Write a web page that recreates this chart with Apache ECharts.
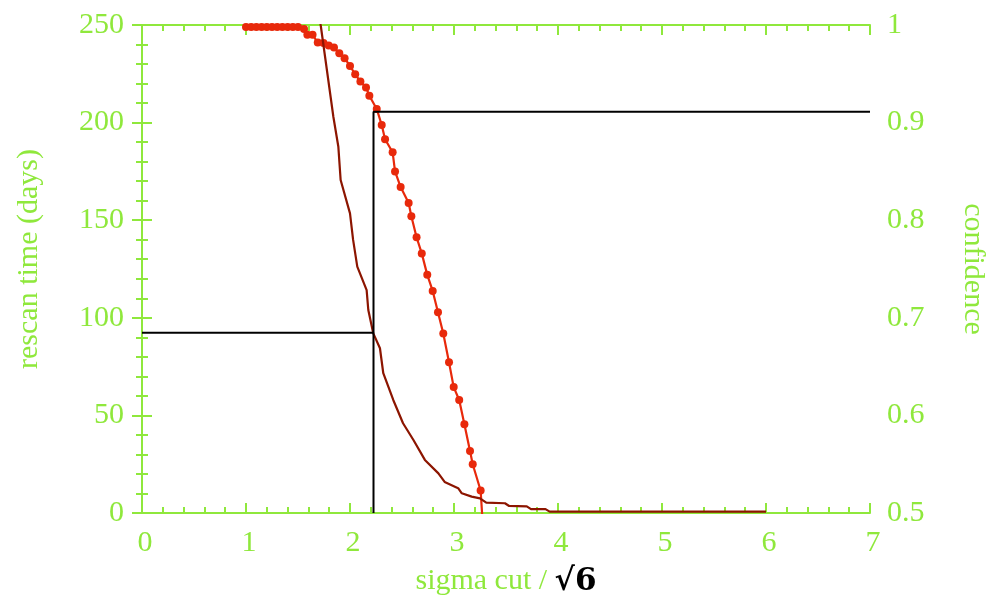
<!DOCTYPE html>
<html><head><meta charset="utf-8">
<script src="https://cdn.jsdelivr.net/npm/echarts@6/dist/echarts.min.js"></script>
<style>html,body{margin:0;padding:0;background:#fff}#c{width:986px;height:600px}</style>
</head><body><div id="c"></div><script>
// confidence curve (right axis), red with dots
const confX = [1.0,1.05,1.1,1.15,1.2,1.25,1.3,1.35,1.4,1.45,1.5,1.558,1.59,1.64,1.69,1.745,1.795,1.846,1.897,1.948,2.0,2.05,2.10,2.154,2.186,2.257,2.305,2.337,2.41,2.433,2.487,2.564,2.59,2.64,2.69,2.743,2.795,2.846,2.897,2.952,2.997,3.05,3.10,3.154,3.18,3.256,3.30];
const confY = [0.998,0.998,0.998,0.998,0.998,0.998,0.998,0.998,0.998,0.998,0.998,0.996,0.990,0.990,0.982,0.9815,0.979,0.977,0.971,0.966,0.958,0.9495,0.942,0.936,0.9276,0.914,0.8975,0.883,0.8696,0.850,0.834,0.8176,0.804,0.7825,0.766,0.744,0.7275,0.7056,0.684,0.6544,0.629,0.6158,0.591,0.5635,0.550,0.523,0.45];
// rescan time curve (left axis), dark red
const rescanX = [1.70,1.718,1.84,1.888,1.91,2.0,2.03,2.07,2.16,2.176,2.224,2.288,2.32,2.416,2.51,2.61,2.72,2.85,2.91,3.04,3.075,3.17,3.25,3.31,3.49,3.53,3.70,3.74,3.88,3.92,6.0];
const rescanY = [257,250,203,187.6,170.6,153.5,139.9,126.2,114.2,104,92,84.4,71.6,57.9,46,37.4,27.2,20.3,15.9,12.7,10.1,8.4,7.5,5.3,5.0,3.6,3.4,2.0,2.0,0.7,0.7];
// crosshair reference values
const crossX = [2.226];
const crossRescan = [92.4];
const crossConf = [0.911];
const xRange = [0, 7];
const leftRange = [0, 250];
const rightRange = [0.5, 1];

const G = '#8fe83c';
const FONT = 'Liberation Serif';
const FS = 30;
const chart = echarts.init(document.getElementById('c'), null, {renderer: 'canvas'});

function axisBase() {
  return {
    axisLine: {show: true, lineStyle: {color: G, width: 2}},
    axisTick: {show: true, inside: true, length: 10, lineStyle: {color: G, width: 2}},
    minorTick: {show: true, splitNumber: 5, length: 6, lineStyle: {color: G, width: 2}},
    splitLine: {show: false},
    minorSplitLine: {show: false},
    axisLabel: {color: G, fontFamily: FONT, fontSize: FS}
  };
}

const confData = confX.map((x, i) => confY[i] < rightRange[0] ? {value: [x, confY[i]], symbol: 'none'} : [x, confY[i]]);
const rescanData = rescanX.map((x, i) => [x, rescanY[i]]);

chart.setOption({
  animation: false,
  backgroundColor: '#fff',
  grid: {left: 142, right: 116, top: 25, bottom: 87, containLabel: false, outerBoundsMode: 'none'},
  xAxis: [
    Object.assign(axisBase(), {
      type: 'value', position: 'bottom', min: xRange[0], max: xRange[1], interval: 1,
      axisLabel: {color: G, fontFamily: FONT, fontSize: FS, margin: 15, padding: [0,0,0,6]},
      name: '{g|sigma cut / }{b|√6}', nameLocation: 'middle', nameGap: 53,
      nameTextStyle: {rich: {
        g: {color: G, fontFamily: FONT, fontSize: FS},
        b: {color: '#000', fontFamily: 'DejaVu Serif', fontSize: 31, fontWeight: 'bold'}
      }}
    }),
    Object.assign(axisBase(), {
      type: 'value', position: 'top', min: xRange[0], max: xRange[1], interval: 1,
      axisLabel: {show: false}
    })
  ],
  yAxis: [
    Object.assign(axisBase(), {
      type: 'value', position: 'left', min: leftRange[0], max: leftRange[1], interval: 50,
      axisLabel: {color: G, fontFamily: FONT, fontSize: FS, margin: 18},
      name: 'rescan time (days)', nameLocation: 'middle', nameGap: 98,
      nameTextStyle: {color: G, fontFamily: FONT, fontSize: FS, padding: [0, 0, 0, 20]}
    }),
    Object.assign(axisBase(), {
      type: 'value', position: 'right', min: rightRange[0], max: rightRange[1], interval: 0.1,
      axisLabel: {color: G, fontFamily: FONT, fontSize: FS, margin: 17},
      name: 'confidence', nameLocation: 'middle', nameGap: 88, nameRotate: -90,
      nameTextStyle: {color: G, fontFamily: FONT, fontSize: FS}
    })
  ],
  series: [
    {
      type: 'line', xAxisIndex: 0, yAxisIndex: 1, data: confData, clip: true,
      symbol: 'circle', symbolSize: 8, showAllSymbol: true,
      lineStyle: {color: '#e8290b', width: 2.2}, itemStyle: {color: '#e8290b'}, z: 3
    },
    {
      type: 'line', xAxisIndex: 0, yAxisIndex: 0, data: rescanData, clip: true,
      symbol: 'none', lineStyle: {color: '#8c1500', width: 2.2}, z: 4
    },
    {
      type: 'line', xAxisIndex: 0, yAxisIndex: 0, symbol: 'none', clip: true,
      data: [[xRange[0], crossRescan[0]], [crossX[0], crossRescan[0]]],
      lineStyle: {color: '#000', width: 2}, z: 5
    },
    {
      type: 'line', xAxisIndex: 0, yAxisIndex: 1, symbol: 'none', clip: true,
      data: [[crossX[0], rightRange[0]], [crossX[0], crossConf[0]], [xRange[1], crossConf[0]]],
      lineStyle: {color: '#000', width: 2}, z: 5
    }
  ]
});
</script></body></html>
